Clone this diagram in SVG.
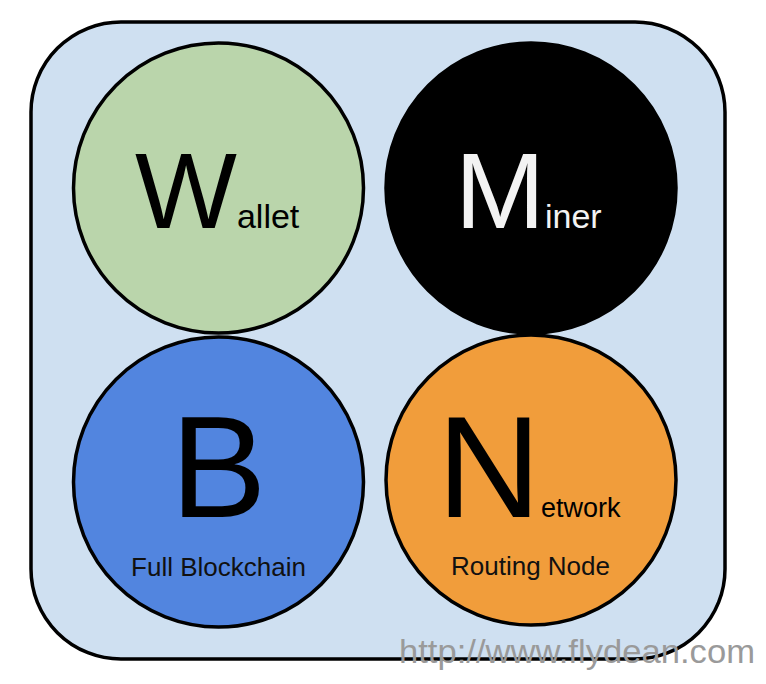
<svg xmlns="http://www.w3.org/2000/svg" width="766" height="684" viewBox="0 0 766 684">
<style>
.node circle{stroke:#000;stroke-width:3.5}
text{font-family:"Liberation Sans",Arial,sans-serif}
.big{font-size:108px}
.huge{font-size:144px}
.small{font-size:34px}
.sub{font-size:26px}
</style>
<rect x="31" y="22" width="694" height="637" rx="90" ry="90" fill="#cfe0f1" stroke="#000" stroke-width="3.5"/>
<g id="connectors"></g>
<g id="wallet" class="node">
<circle cx="218.5" cy="188" r="145" fill="#bad5ab"/>
<text x="135" y="228" fill="#000"><tspan class="big">W</tspan><tspan class="small">allet</tspan></text>
</g>
<g id="miner" class="node">
<circle cx="531" cy="188" r="145" fill="#000"/>
<text x="455" y="228" fill="#f3f3f3"><tspan class="big">M</tspan><tspan class="small">iner</tspan></text>
</g>
<g id="blockchain" class="node">
<circle cx="218.5" cy="482" r="145" fill="#5285df"/>
<text x="218.5" y="517" class="huge" text-anchor="middle" fill="#000">B</text>
<text x="218.5" y="576" class="sub" text-anchor="middle" fill="#111">Full Blockchain</text>
</g>
<g id="network" class="node">
<circle cx="531" cy="480" r="145" fill="#f19d3b"/>
<text x="437" y="517" fill="#000"><tspan class="huge">N</tspan><tspan font-size="27px">etwork</tspan></text>
<text x="530.5" y="575" class="sub" text-anchor="middle" fill="#111">Routing Node</text>
</g>
<text x="399" y="663" font-size="33" fill="#9a9a9a" textLength="356" lengthAdjust="spacingAndGlyphs">http://www.flydean.com</text>
</svg>
